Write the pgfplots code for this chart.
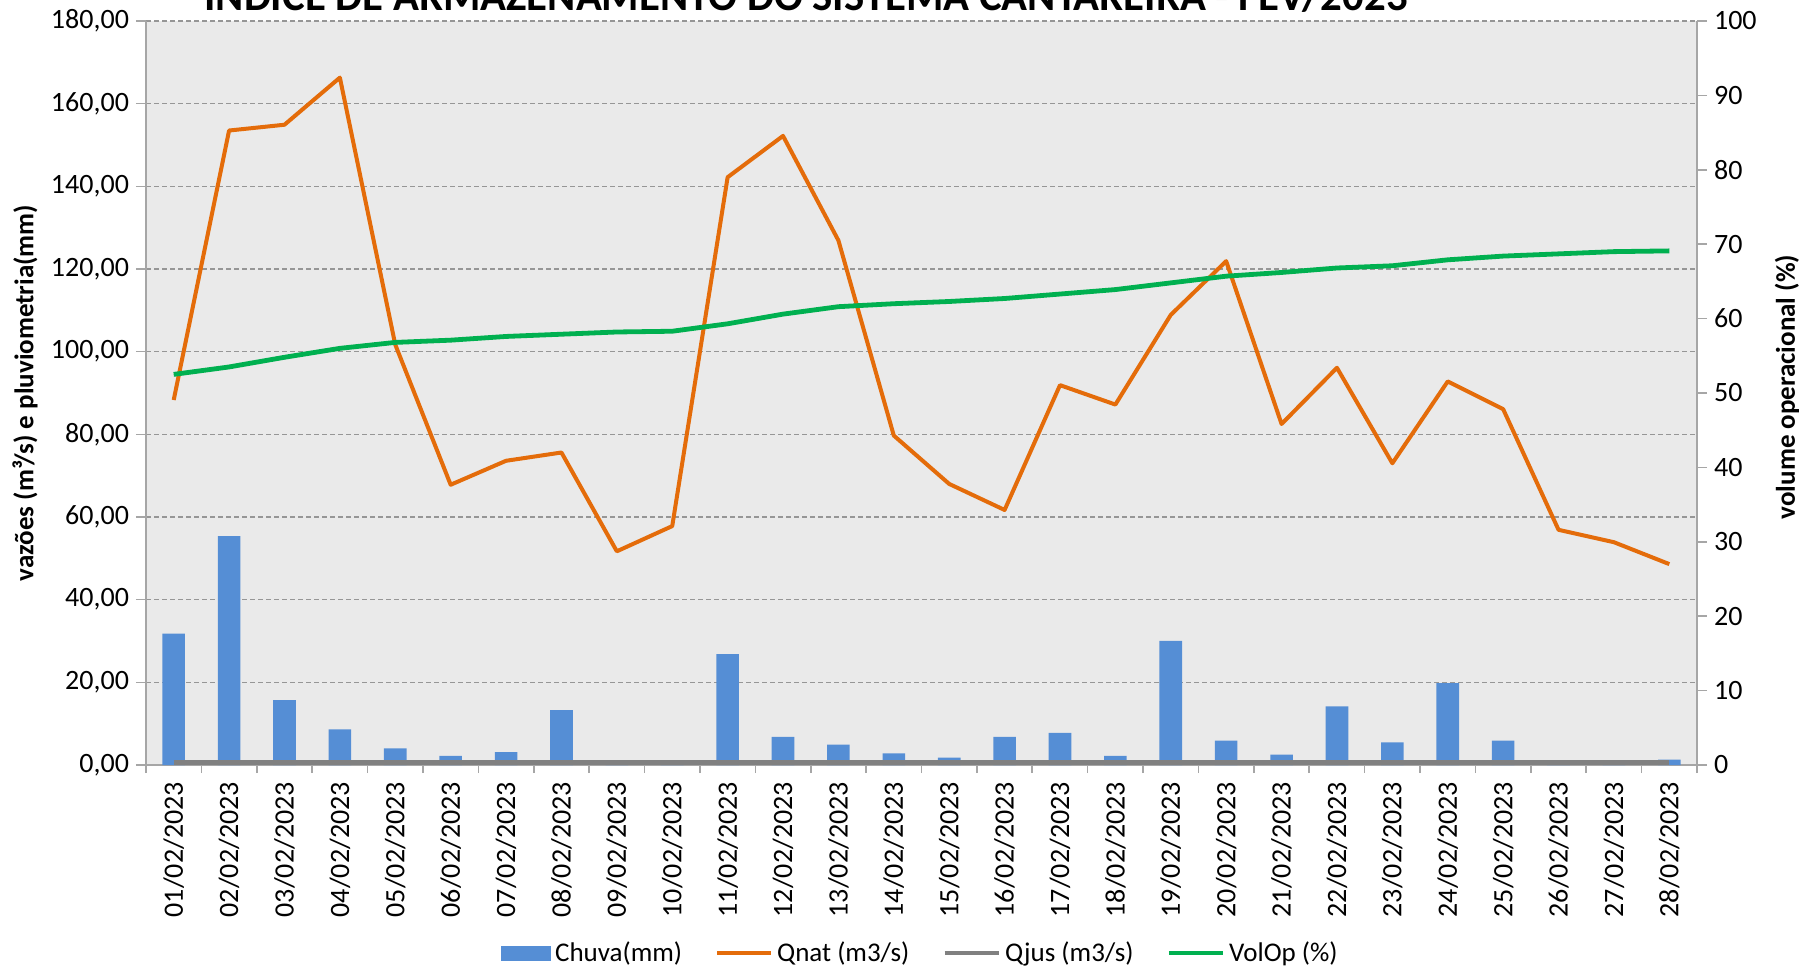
\documentclass[border=0pt]{standalone}
\usepackage{fontspec}
\setmainfont{Carlito}
\usepackage{pgfplots}
\usepackage{pgfplotstable}
\pgfplotsset{compat=1.18}

\definecolor{chuva}{RGB}{85,142,213}
\definecolor{qnat}{RGB}{228,108,10}
\definecolor{qjus}{RGB}{128,128,128}
\definecolor{volop}{RGB}{0,176,80}
\definecolor{fundo}{RGB}{234,234,234}
\definecolor{eixo}{RGB}{166,166,166}
\definecolor{grade}{RGB}{150,150,150}

% dia, chuva (mm), Qnat (m3/s), Qjus (m3/s), VolOp (%)
\pgfplotstableread{
dia chuva qnat qjus volop
1  31.8  88.3 0.6 52.5
2  55.4 153.5 0.6 53.5
3  15.7 154.9 0.6 54.8
4   8.6 166.3 0.6 56.0
5   4.0 101.7 0.6 56.8
6   2.2  67.8 0.6 57.1
7   3.1  73.6 0.6 57.6
8  13.3  75.6 0.6 57.9
9   0.0  51.7 0.6 58.2
10  0.0  57.8 0.6 58.3
11 26.8 142.2 0.6 59.3
12  6.8 152.2 0.6 60.6
13  4.9 126.9 0.6 61.6
14  2.8  79.7 0.6 62.0
15  1.8  68.0 0.6 62.3
16  6.8  61.7 0.6 62.7
17  7.8  91.9 0.6 63.3
18  2.2  87.2 0.6 63.9
19 30.0 108.9 0.6 64.8
20  5.9 121.9 0.6 65.7
21  2.5  82.5 0.6 66.2
22 14.2  96.1 0.6 66.8
23  5.5  73.0 0.6 67.1
24 19.8  92.8 0.6 67.9
25  5.9  86.1 0.6 68.4
26  0.0  56.9 0.6 68.7
27  0.0  53.9 0.6 69.0
28  1.3  48.6 0.6 69.1
}\dados

\begin{document}
\begin{tikzpicture}[font=\fontsize{13.5}{15}\selectfont]
\pgfplotsset{
  base/.style={
    scale only axis, width=775.5pt, height=372pt,
    xmin=0.5, xmax=28.5,
    tick align=outside,
    major tick length=5pt,
    tick style={eixo, line width=0.8pt},
    axis line style={eixo, line width=0.8pt},
    /pgf/number format/assume math mode=true,
    tick label style={font=\fontsize{14}{16}\selectfont},
  }
}
\begin{axis}[base,
  ymin=0, ymax=180, ytick={0,20,...,180},
  axis x line*=bottom, axis y line*=left,
  axis background/.style={fill=fundo},
  ymajorgrids,
  grid style={grade, dash pattern=on 2.5pt off 1.5pt, line width=0.7pt},
  yticklabel style={/pgf/number format/.cd, fixed, fixed zerofill, precision=2, use comma},
  xtick={1,...,28},
  xticklabels={01/02/2023,02/02/2023,03/02/2023,04/02/2023,05/02/2023,06/02/2023,07/02/2023,
    08/02/2023,09/02/2023,10/02/2023,11/02/2023,12/02/2023,13/02/2023,14/02/2023,
    15/02/2023,16/02/2023,17/02/2023,18/02/2023,19/02/2023,20/02/2023,21/02/2023,
    22/02/2023,23/02/2023,24/02/2023,25/02/2023,26/02/2023,27/02/2023,28/02/2023},
  xticklabel style={rotate=90, anchor=east},
  major x tick style={draw=none},
  minor xtick={0.5,1.5,...,28.5},
  minor tick length=4pt,
  ylabel={\bfseries vazões (m³/s) e pluviometria(mm)},
  every axis y label/.style={at={(axis description cs:0,0.5)}, xshift=-60.5pt, rotate=90, anchor=center},
]
\addplot[ybar, bar width=11.3pt, fill=chuva, draw=none] table[x=dia, y=chuva] {\dados};
\addplot[qjus, line width=2.5pt] table[x=dia, y=qjus] {\dados};
\addplot[qnat, line width=2pt, line join=round] table[x=dia, y=qnat] {\dados};
\end{axis}

\begin{axis}[base,
  ymin=0, ymax=100, ytick={0,10,...,100},
  axis x line=none, axis y line*=right,
  ylabel={\bfseries volume operacional (\%)},
  every axis y label/.style={at={(axis description cs:1,0.5)}, xshift=45pt, yshift=3pt, rotate=90, anchor=center},
  legend style={at={(axis description cs:0.5,-0.2527)}, anchor=center, draw=none, fill=none,
    font=\fontsize{13.5}{15}\selectfont,
    /tikz/every even column/.append style={column sep=14.5pt}},
  legend columns=4,
]
\addlegendimage{legend image code/.code={\fill[chuva] (0pt,-3.5pt) rectangle (24.5pt,3.5pt);}}
\addlegendentry{Chuva(mm)}
\addlegendimage{legend image code/.code={\draw[qnat, line width=2pt] (0pt,0pt) -- (27pt,0pt);}}
\addlegendentry{Qnat (m3/s)}
\addlegendimage{legend image code/.code={\draw[qjus, line width=2.3pt] (0pt,0pt) -- (27pt,0pt);}}
\addlegendentry{Qjus (m3/s)}
\addplot[volop, line width=2.4pt, line join=round,
  legend image code/.code={\draw[volop, line width=2.3pt] (0pt,0pt) -- (27pt,0pt);}]
  table[x=dia, y=volop] {\dados};
\addlegendentry{VolOp (\%)}
\end{axis}

\node[font=\fontsize{21.4}{23}\selectfont\bfseries, anchor=base] at (330pt,377pt)
  {ÍNDICE DE ARMAZENAMENTO DO SISTEMA CANTAREIRA - FEV/2023};

\pgfresetboundingbox
\useasboundingbox (-73pt,-101.5pt) rectangle (828pt,382.5pt);
\end{tikzpicture}
\end{document}
